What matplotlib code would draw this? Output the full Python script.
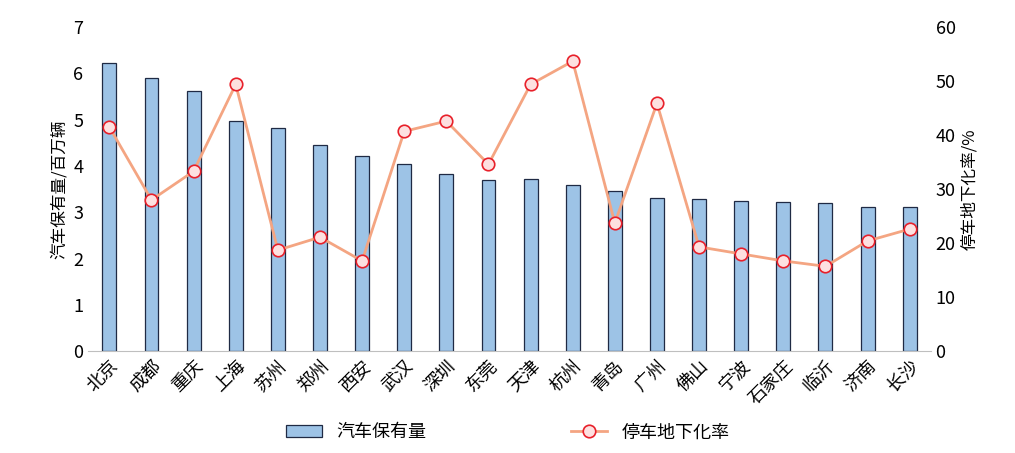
import matplotlib.pyplot as plt
from matplotlib import font_manager
import numpy as np

cjk = [f.name for f in font_manager.fontManager.ttflist if 'CJK' in f.name]
plt.rcParams['font.family'] = sorted(set(cjk))[:1] + ['Noto Sans CJK SC', 'DejaVu Sans']

cities = ['北京', '成都', '重庆', '上海', '苏州', '郑州', '西安', '武汉', '深圳', '东莞',
          '天津', '杭州', '青岛', '广州', '佛山', '宁波', '石家庄', '临沂', '济南', '长沙']
car_stock = [6.22, 5.90, 5.63, 4.98, 4.82, 4.45, 4.21, 4.05, 3.83, 3.70,
             3.72, 3.59, 3.46, 3.31, 3.29, 3.25, 3.22, 3.20, 3.12, 3.12]
underground_rate = [41.5, 28.0, 33.3, 49.4, 18.7, 21.1, 16.7, 40.7, 42.6, 34.6,
                    49.4, 53.7, 23.7, 45.9, 19.3, 18.0, 16.7, 15.7, 20.4, 22.6]

fig = plt.figure(figsize=(10.15, 4.53), dpi=100)
ax = fig.add_axes([0.087, 0.225, 0.83, 0.715])
x = np.arange(len(cities))
ax.bar(x, car_stock, width=0.33, color='#9DC3E6', edgecolor='#1F2A44', linewidth=0.9,
       label='汽车保有量')
ax.set_ylim(0, 7)
ax.set_xlim(-0.5, len(cities) - 0.5)
ax.set_ylabel('汽车保有量/百万辆', fontsize=12)
ax.set_xticks(x)
ax.set_xticklabels(cities, rotation=45, ha='right', rotation_mode='anchor', fontsize=13)
ax.tick_params(axis='y', labelsize=13, length=0)
ax.tick_params(axis='x', length=0, pad=4)
for s in ['top', 'right', 'left']:
    ax.spines[s].set_visible(False)
ax.spines['bottom'].set_color('#BFBFBF')

ax2 = ax.twinx()
ax2.plot(x, underground_rate, color='#F4A582', linewidth=2, marker='o', markersize=9,
         markerfacecolor='#FDE0E0', markeredgecolor='#E8202A', markeredgewidth=1.2,
         label='停车地下化率')
ax2.set_ylim(0, 60)
ax2.set_ylabel('停车地下化率/%', fontsize=12)
ax2.tick_params(axis='y', labelsize=13, length=0)
for s in ax2.spines.values():
    s.set_visible(False)

h1, l1 = ax.get_legend_handles_labels()
h2, l2 = ax2.get_legend_handles_labels()
fig.legend(h1 + h2, l1 + l2, loc='lower center', ncol=2, frameon=False, fontsize=13,
           bbox_to_anchor=(0.5, -0.01), columnspacing=8)

fig.savefig('out.png')
